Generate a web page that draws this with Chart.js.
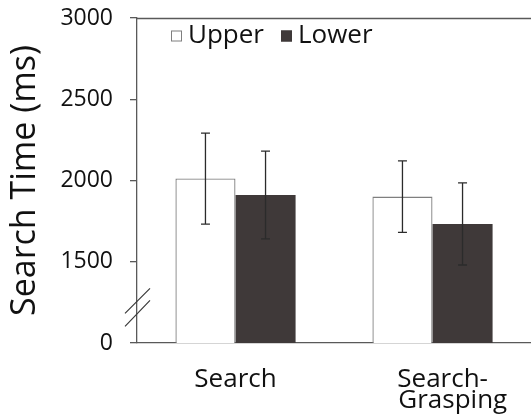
<!DOCTYPE html>
<html>
<head>
<meta charset="utf-8">
<script src="https://cdn.jsdelivr.net/npm/chart.js@4.4.1/dist/chart.umd.min.js"></script>
<style>
  html, body { margin: 0; padding: 0; background: #fff; }
  #wrap { width: 531px; height: 417px; }
</style>
</head>
<body>
<div id="wrap"><canvas id="chart"></canvas></div>
<script>
// categorias e séries
const categories = ['Search', ['   Search-', '      Grasping']];
const upperMeans = [2012, 1901];
const upperErr = [280, 220];
const lowerMeans = [1911, 1733];
const lowerErr = [270, 253];
const yTicks = [1000, 1500, 2000, 2500, 3000];
const yTickLabels = ['0', '1500', '2000', '2500', '3000'];

const FONT = '"Open Sans", sans-serif';
const AXIS = '#595959';

// barras de erro, linha superior, quebra do eixo e legenda
const extras = {
    id: 'extras',
    afterDatasetsDraw(chart) {
        const ctx = chart.ctx;
        const y = chart.scales.y;
        const area = chart.chartArea;
        const errs = [upperErr, lowerErr];

        ctx.save();
        ctx.strokeStyle = '#2b2b2b';
        ctx.lineWidth = 1.3;
        chart.data.datasets.forEach((ds, i) => {
            chart.getDatasetMeta(i).data.forEach((bar, j) => {
                const top = y.getPixelForValue(ds.data[j] + errs[i][j]);
                const bot = y.getPixelForValue(ds.data[j] - errs[i][j]);
                ctx.beginPath();
                ctx.moveTo(bar.x, top); ctx.lineTo(bar.x, bot);
                ctx.moveTo(bar.x - 4.5, top); ctx.lineTo(bar.x + 4.5, top);
                ctx.moveTo(bar.x - 4.5, bot); ctx.lineTo(bar.x + 4.5, bot);
                ctx.stroke();
            });
        });

        // linha superior
        ctx.strokeStyle = AXIS;
        ctx.lineWidth = 1.3;
        ctx.beginPath();
        ctx.moveTo(area.left, area.top + 0.5);
        ctx.lineTo(chart.width, area.top + 0.5);
        ctx.stroke();

        // quebra do eixo (//)
        const xb = area.left;
        const yb = y.getPixelForValue(1250);
        ctx.strokeStyle = '#3a3a3a';
        ctx.lineWidth = 1.2;
        ctx.beginPath();
        ctx.moveTo(xb - 12, yb + 11); ctx.lineTo(xb + 13, yb - 14);
        ctx.moveTo(xb - 12, yb + 24); ctx.lineTo(xb + 13, yb - 2);
        ctx.stroke();

        // legenda
        ctx.font = '26px ' + FONT;
        ctx.textBaseline = 'middle';
        let lx = area.left + 34;
        const ly = area.top + 18;
        chart.data.datasets.forEach((ds) => {
            ctx.fillStyle = ds.backgroundColor;
            ctx.fillRect(lx, ly - 5.5, 11, 11);
            ctx.strokeStyle = ds.borderColor;
            ctx.lineWidth = 1;
            ctx.strokeRect(lx + 0.5, ly - 5, 10, 10);
            ctx.fillStyle = '#111';
            ctx.textAlign = 'left';
            ctx.fillText(ds.label, lx + 17, ly);
            lx += 17 + ctx.measureText(ds.label).width + 17;
        });
        ctx.restore();
    }
};

new Chart(document.getElementById('chart'), {
    type: 'bar',
    data: {
        labels: categories,
        datasets: [
            {
                label: 'Upper',
                data: upperMeans,
                backgroundColor: '#ffffff',
                borderColor: '#7f7f7f',
                borderWidth: 1.3,
                borderSkipped: false
            },
            {
                label: 'Lower',
                data: lowerMeans,
                backgroundColor: '#3f3939',
                borderColor: '#3f3939',
                borderWidth: 0
            }
        ]
    },
    options: {
        responsive: true,
        maintainAspectRatio: false,
        animation: false,
        layout: { padding: { top: 18, right: 0, left: 0, bottom: 0 } },
        datasets: { bar: { categoryPercentage: 0.61, barPercentage: 1.0 } },
        plugins: {
            legend: { display: false },
            tooltip: { enabled: false }
        },
        scales: {
            x: {
                grid: { display: false },
                border: { color: AXIS, width: 1.3 },
                ticks: {
                    color: '#111',
                    font: { family: FONT, size: 26, lineHeight: 0.8 },
                    padding: 18,
                    maxRotation: 0
                },
                afterFit(scale) {
                    scale.height = 74;
                    scale.paddingLeft = 0;
                    scale.paddingRight = 0;
                }
            },
            y: {
                min: 1000,
                max: 3000,
                afterBuildTicks(scale) {
                    scale.ticks = yTicks.map(v => ({ value: v }));
                },
                grid: {
                    drawOnChartArea: false,
                    drawTicks: true,
                    tickLength: 7,
                    color: AXIS,
                    lineWidth: 1.3
                },
                border: { color: AXIS, width: 1.3 },
                ticks: {
                    color: '#111',
                    font: { family: FONT, size: 23 },
                    padding: 17,
                    callback: (v) => yTickLabels[yTicks.indexOf(v)]
                },
                title: {
                    display: true,
                    text: 'Search Time (ms)',
                    color: '#111',
                    font: { family: FONT, size: 34 },
                    padding: { top: 5, bottom: 0 }
                },
                afterFit(scale) {
                    scale.width = 137;
                    scale.paddingTop = 0;
                    scale.paddingBottom = 0;
                }
            }
        }
    },
    plugins: [extras]
});
</script>
</body>
</html>
